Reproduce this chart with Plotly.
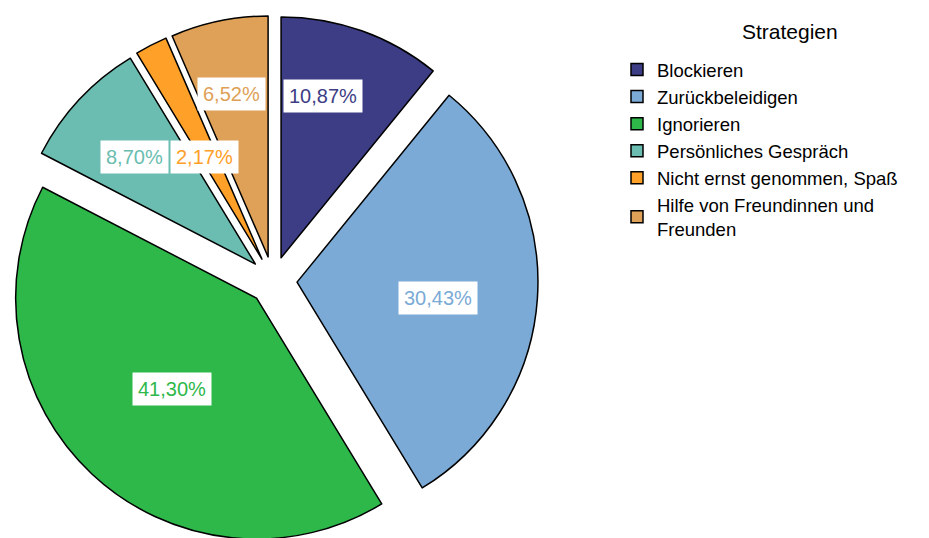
import math
import plotly.graph_objects as go

strategies = ["Blockieren", "Zurückbeleidigen", "Ignorieren", "Persönliches Gespräch",
              "Nicht ernst genommen, Spaß", "Hilfe von Freundinnen und<br>Freunden"]
shares = [10.87, 30.43, 41.30, 8.70, 2.17, 6.52]
value_labels = ["10,87%", "30,43%", "41,30%", "8,70%", "2,17%", "6,52%"]
legend_title = "Strategien"

colors = ["#3D3D85", "#7BAAD6", "#2EB84A", "#6ABDB0", "#FFA028", "#DEA157"]
FONT = "Liberation Sans, Arial, sans-serif"

W, H = 929, 541
ML, MT = 0, 4
PW, PH = W - ML, H - MT
dom_x = [0, 530 / PW]
dom_y = [0, 1]
pull = 0.1


def to_paper(px, py):
    return (px - ML) / PW, 1 - (py - MT) / PH


fig = go.Figure(go.Pie(
    labels=strategies, values=shares, sort=False, direction="clockwise", rotation=0,
    pull=[pull] * len(shares), textinfo="none", hoverinfo="label+percent",
    marker=dict(colors=colors, line=dict(color="black", width=1.5)),
    domain=dict(x=dom_x, y=dom_y),
))

# label placement (radius fraction and angular tweak per slice)
label_r = [0.795, 0.688, 0.615, 0.77, 0.585, 0.793]
label_dang = [-4.3, 2.3, 0.0, -1.2, -1.5, -0.8]

cx = ML + (dom_x[0] + dom_x[1]) / 2 * PW
cy = MT + (1 - (dom_y[0] + dom_y[1]) / 2) * PH
r = min((dom_x[1] - dom_x[0]) * PW, (dom_y[1] - dom_y[0]) * PH) / (2 + 2 * pull)
total = sum(shares)
cum = 0.0
for i, v in enumerate(shares):
    mid = (cum + v / 2) / total * 360 + label_dang[i]
    cum += v
    a = math.radians(mid)
    px = cx + label_r[i] * r * math.sin(a)
    py = cy - label_r[i] * r * math.cos(a)
    ax_, ay_ = to_paper(px, py)
    fig.add_annotation(x=ax_, y=ay_, xref="paper", yref="paper",
                       xanchor="center", yanchor="middle",
                       text=value_labels[i], showarrow=False, bgcolor="white",
                       borderpad=5, font=dict(family=FONT, size=20, color=colors[i]))

tx, ty = to_paper(782, 24)
fig.add_annotation(x=tx, y=ty, xref="paper", yref="paper", text=legend_title,
                   xanchor="center", yanchor="middle",
                   showarrow=False, font=dict(family=FONT, size=21, color="black"))

lx, ly = to_paper(609, 43)
fig.update_layout(
    width=W, height=H, margin=dict(l=ML, r=0, t=MT, b=0),
    paper_bgcolor="white", plot_bgcolor="white",
    font=dict(family=FONT, color="black"),
    showlegend=True,
    legend=dict(x=lx, y=ly, xanchor="left", yanchor="top",
                font=dict(size=18.5, family=FONT, color="black"),
                bgcolor="rgba(0,0,0,0)"),
)

fig.write_html("out.html")
